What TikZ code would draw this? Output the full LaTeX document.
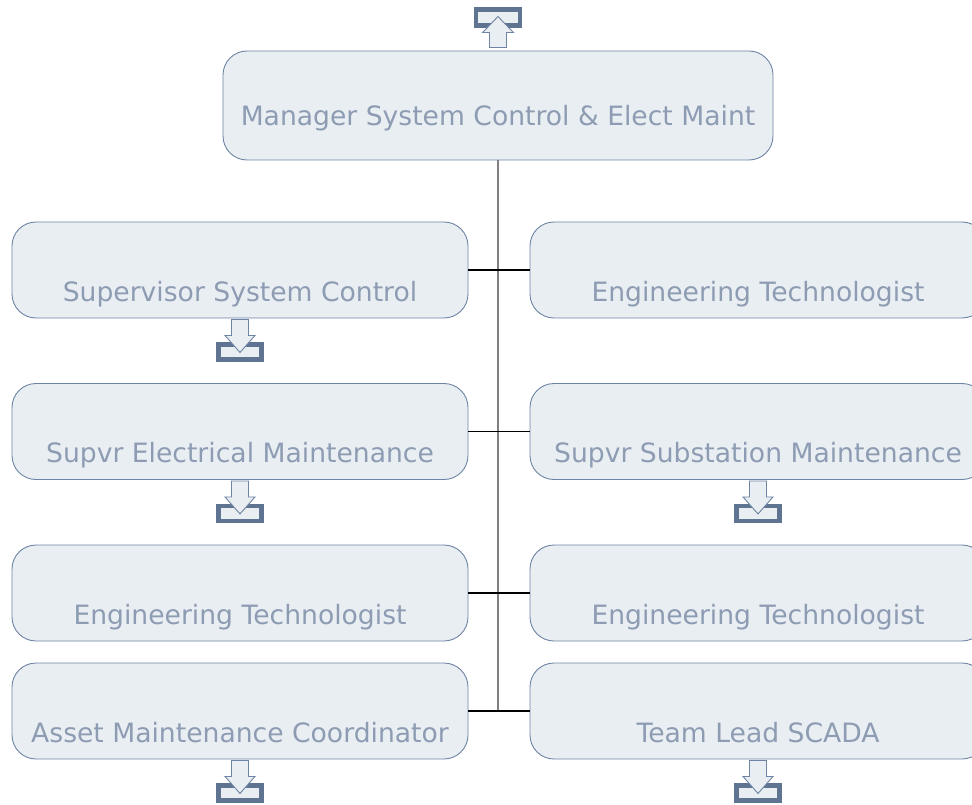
\documentclass[tikz,border=0pt]{standalone}
\usepackage{fontspec}
\setmainfont{DejaVu Sans}
\usetikzlibrary{positioning}
\definecolor{boxfill}{HTML}{E9EEF2}
\definecolor{boxline}{HTML}{6E84A4}
\definecolor{boxtext}{HTML}{8D9CB3}
\definecolor{flagframe}{HTML}{5F7491}

\begin{document}
\begin{tikzpicture}[x=1pt,y=-1pt,
  unit/.style={draw=boxline, fill=boxfill, rounded corners=24pt, inner sep=0pt,
    line width=0.9pt, minimum width=456pt, minimum height=96pt, text=boxtext,
    text height=68pt, text depth=6pt,
    font=\fontsize{26.6}{30}\selectfont},
  head/.style={unit, minimum width=550pt, minimum height=109pt,
    text height=46pt, text depth=5pt},
  frame/.style={draw=flagframe, fill=boxfill, line width=4.5pt},
  flag/.style={draw=boxline, fill=boxfill, line width=0.9pt, line join=miter}]

  \useasboundingbox (0,0) rectangle (972,805);
  \clip (0,0) rectangle (972,805);

  % top box
  \node[head] (mgr) at (498,105.5) {Manager System Control \& Elect Maint};

  % left column
  \node[unit] (sup) at (240,270) {Supervisor System Control};
  \node[unit] (sel) at (240,431.5) {Supvr Electrical Maintenance};
  \node[unit] (engl) at (240,593) {Engineering Technologist};
  \node[unit] (asset) at (240,711) {Asset Maintenance Coordinator};

  % right column
  \node[unit] (eng1) at (758,270) {Engineering Technologist};
  \node[unit] (subst) at (758,431.5) {Supvr Substation Maintenance};
  \node[unit] (eng2) at (758,593) {Engineering Technologist};
  \node[unit] (scada) at (758,711) {Team Lead SCADA};

  % connectors
  \draw[gray, line width=1.8pt] (mgr.south) -- (mgr.south |- asset.east);
  \draw[line width=1.1pt] (sup.east) -- (eng1.west);
  \draw[line width=1.1pt] (sel.east) -- (subst.west);
  \draw[line width=1.1pt] (engl.east) -- (eng2.west);
  \draw[line width=1.1pt] (asset.east) -- (scada.west);

  % up icon
  \begin{scope}[shift={(mgr.north)}]
    \draw[frame] (-22,-41) rectangle (22,-25);
    \draw[flag] (-8.5,-3) -- (8.5,-3) -- (8.5,-18) -- (15.5,-18) -- (0,-34)
      -- (-15.5,-18) -- (-8.5,-18) -- cycle;
  \end{scope}

  % down icons
  \foreach \b in {sup,sel,asset,subst,scada}{
    \begin{scope}[shift={(\b.south)}]
      \draw[frame] (-21.5,26) rectangle (21.5,41);
      \draw[flag] (-8.5,1) -- (8.5,1) -- (8.5,17) -- (15,17) -- (0,34)
        -- (-15,17) -- (-8.5,17) -- cycle;
    \end{scope}
  }
\end{tikzpicture}
\end{document}
